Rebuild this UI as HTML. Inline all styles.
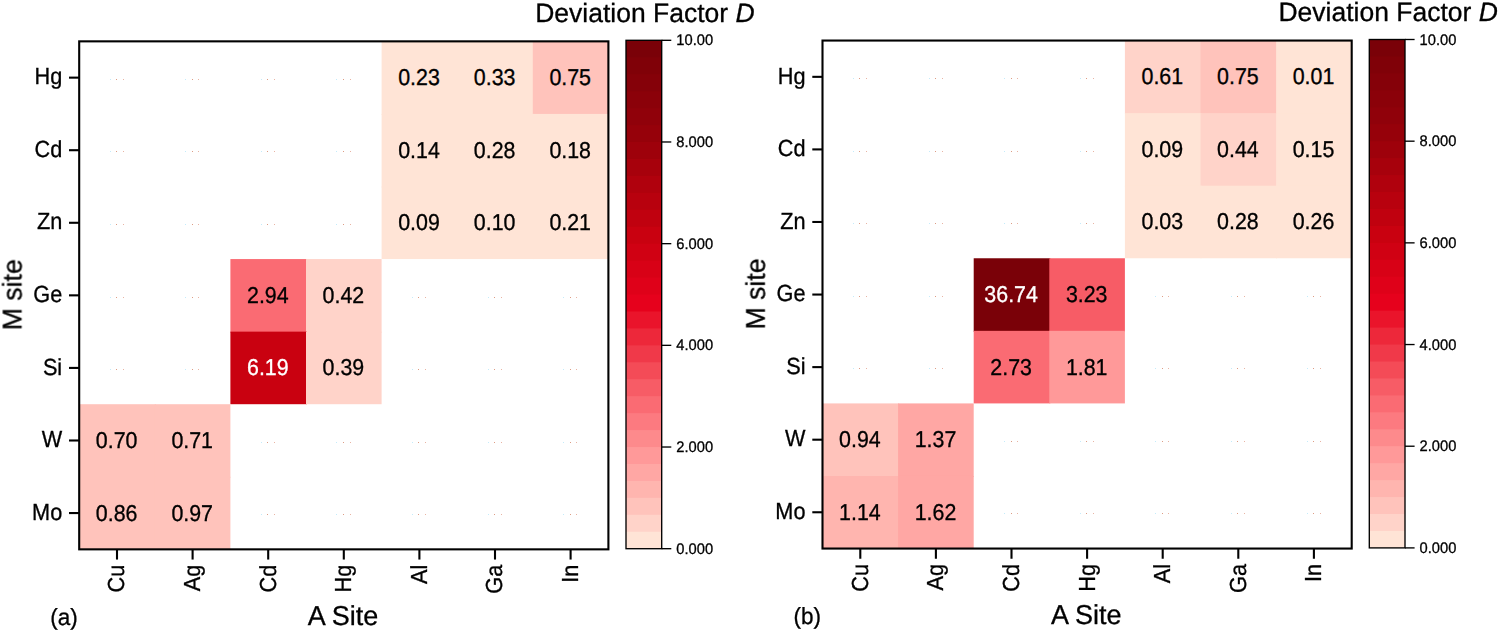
<!DOCTYPE html>
<html><head><meta charset="utf-8"><title>Deviation Factor heatmaps</title>
<style>
html,body{margin:0;padding:0;background:#fff;}
body{width:1500px;height:632px;overflow:hidden;}
svg{display:block;font-family:"Liberation Sans", sans-serif;}
svg text{font-family:"Liberation Sans", sans-serif;text-rendering:geometricPrecision;}
</style></head><body>
<svg width="1500" height="632" viewBox="0 0 1500 632">
<rect width="1500" height="632" fill="#fff"/>
<g transform="translate(0,0)" opacity="0.9999">
<rect x="381.60" y="41.35" width="76.60" height="73.57" fill="#ffe4d6"/>
<rect x="457.20" y="41.35" width="76.60" height="73.57" fill="#ffe4d6"/>
<rect x="532.80" y="41.35" width="75.60" height="73.57" fill="#ffc3bb"/>
<rect x="381.60" y="113.92" width="76.60" height="73.57" fill="#ffe4d6"/>
<rect x="457.20" y="113.92" width="76.60" height="73.57" fill="#ffe4d6"/>
<rect x="532.80" y="113.92" width="75.60" height="73.57" fill="#ffe4d6"/>
<rect x="381.60" y="186.49" width="76.60" height="72.57" fill="#ffe4d6"/>
<rect x="457.20" y="186.49" width="76.60" height="72.57" fill="#ffe4d6"/>
<rect x="532.80" y="186.49" width="75.60" height="72.57" fill="#ffe4d6"/>
<rect x="230.40" y="259.06" width="76.60" height="73.57" fill="#fa6b73"/>
<rect x="306.00" y="259.06" width="75.60" height="73.57" fill="#ffd3c9"/>
<rect x="230.40" y="331.64" width="76.60" height="72.57" fill="#c90010"/>
<rect x="306.00" y="331.64" width="75.60" height="72.57" fill="#ffd3c9"/>
<rect x="79.20" y="404.21" width="76.60" height="73.57" fill="#ffc3bb"/>
<rect x="154.80" y="404.21" width="75.60" height="73.57" fill="#ffc3bb"/>
<rect x="79.20" y="476.78" width="76.60" height="72.57" fill="#ffc3bb"/>
<rect x="154.80" y="476.78" width="75.60" height="72.57" fill="#ffc3bb"/>
<rect x="110.00" y="79.00" width="1" height="1" fill="#c4ebfa"/>
<rect x="116.00" y="79.00" width="1" height="1" fill="#dd9c84"/>
<rect x="123.00" y="79.00" width="1" height="1" fill="#e8b4a4"/>
<rect x="185.00" y="79.00" width="1" height="1" fill="#c4ebfa"/>
<rect x="192.00" y="79.00" width="1" height="1" fill="#dd9c84"/>
<rect x="198.00" y="79.00" width="1" height="1" fill="#e8b4a4"/>
<rect x="261.00" y="79.00" width="1" height="1" fill="#c4ebfa"/>
<rect x="267.00" y="79.00" width="1" height="1" fill="#dd9c84"/>
<rect x="274.00" y="79.00" width="1" height="1" fill="#e8b4a4"/>
<rect x="336.00" y="79.00" width="1" height="1" fill="#c4ebfa"/>
<rect x="343.00" y="79.00" width="1" height="1" fill="#dd9c84"/>
<rect x="350.00" y="79.00" width="1" height="1" fill="#e8b4a4"/>
<rect x="110.00" y="151.00" width="1" height="1" fill="#c4ebfa"/>
<rect x="116.00" y="151.00" width="1" height="1" fill="#dd9c84"/>
<rect x="123.00" y="151.00" width="1" height="1" fill="#e8b4a4"/>
<rect x="185.00" y="151.00" width="1" height="1" fill="#c4ebfa"/>
<rect x="192.00" y="151.00" width="1" height="1" fill="#dd9c84"/>
<rect x="198.00" y="151.00" width="1" height="1" fill="#e8b4a4"/>
<rect x="261.00" y="151.00" width="1" height="1" fill="#c4ebfa"/>
<rect x="267.00" y="151.00" width="1" height="1" fill="#dd9c84"/>
<rect x="274.00" y="151.00" width="1" height="1" fill="#e8b4a4"/>
<rect x="336.00" y="151.00" width="1" height="1" fill="#c4ebfa"/>
<rect x="343.00" y="151.00" width="1" height="1" fill="#dd9c84"/>
<rect x="350.00" y="151.00" width="1" height="1" fill="#e8b4a4"/>
<rect x="110.00" y="224.00" width="1" height="1" fill="#c4ebfa"/>
<rect x="116.00" y="224.00" width="1" height="1" fill="#dd9c84"/>
<rect x="123.00" y="224.00" width="1" height="1" fill="#e8b4a4"/>
<rect x="185.00" y="224.00" width="1" height="1" fill="#c4ebfa"/>
<rect x="192.00" y="224.00" width="1" height="1" fill="#dd9c84"/>
<rect x="198.00" y="224.00" width="1" height="1" fill="#e8b4a4"/>
<rect x="261.00" y="224.00" width="1" height="1" fill="#c4ebfa"/>
<rect x="267.00" y="224.00" width="1" height="1" fill="#dd9c84"/>
<rect x="274.00" y="224.00" width="1" height="1" fill="#e8b4a4"/>
<rect x="336.00" y="224.00" width="1" height="1" fill="#c4ebfa"/>
<rect x="343.00" y="224.00" width="1" height="1" fill="#dd9c84"/>
<rect x="350.00" y="224.00" width="1" height="1" fill="#e8b4a4"/>
<rect x="110.00" y="297.00" width="1" height="1" fill="#c4ebfa"/>
<rect x="116.00" y="297.00" width="1" height="1" fill="#dd9c84"/>
<rect x="123.00" y="297.00" width="1" height="1" fill="#e8b4a4"/>
<rect x="185.00" y="297.00" width="1" height="1" fill="#c4ebfa"/>
<rect x="192.00" y="297.00" width="1" height="1" fill="#dd9c84"/>
<rect x="198.00" y="297.00" width="1" height="1" fill="#e8b4a4"/>
<rect x="412.00" y="297.00" width="1" height="1" fill="#c4ebfa"/>
<rect x="418.00" y="297.00" width="1" height="1" fill="#dd9c84"/>
<rect x="425.00" y="297.00" width="1" height="1" fill="#e8b4a4"/>
<rect x="488.00" y="297.00" width="1" height="1" fill="#c4ebfa"/>
<rect x="494.00" y="297.00" width="1" height="1" fill="#dd9c84"/>
<rect x="501.00" y="297.00" width="1" height="1" fill="#e8b4a4"/>
<rect x="563.00" y="297.00" width="1" height="1" fill="#c4ebfa"/>
<rect x="570.00" y="297.00" width="1" height="1" fill="#dd9c84"/>
<rect x="576.00" y="297.00" width="1" height="1" fill="#e8b4a4"/>
<rect x="110.00" y="369.00" width="1" height="1" fill="#c4ebfa"/>
<rect x="116.00" y="369.00" width="1" height="1" fill="#dd9c84"/>
<rect x="123.00" y="369.00" width="1" height="1" fill="#e8b4a4"/>
<rect x="185.00" y="369.00" width="1" height="1" fill="#c4ebfa"/>
<rect x="192.00" y="369.00" width="1" height="1" fill="#dd9c84"/>
<rect x="198.00" y="369.00" width="1" height="1" fill="#e8b4a4"/>
<rect x="412.00" y="369.00" width="1" height="1" fill="#c4ebfa"/>
<rect x="418.00" y="369.00" width="1" height="1" fill="#dd9c84"/>
<rect x="425.00" y="369.00" width="1" height="1" fill="#e8b4a4"/>
<rect x="488.00" y="369.00" width="1" height="1" fill="#c4ebfa"/>
<rect x="494.00" y="369.00" width="1" height="1" fill="#dd9c84"/>
<rect x="501.00" y="369.00" width="1" height="1" fill="#e8b4a4"/>
<rect x="563.00" y="369.00" width="1" height="1" fill="#c4ebfa"/>
<rect x="570.00" y="369.00" width="1" height="1" fill="#dd9c84"/>
<rect x="576.00" y="369.00" width="1" height="1" fill="#e8b4a4"/>
<rect x="261.00" y="442.00" width="1" height="1" fill="#c4ebfa"/>
<rect x="267.00" y="442.00" width="1" height="1" fill="#dd9c84"/>
<rect x="274.00" y="442.00" width="1" height="1" fill="#e8b4a4"/>
<rect x="336.00" y="442.00" width="1" height="1" fill="#c4ebfa"/>
<rect x="343.00" y="442.00" width="1" height="1" fill="#dd9c84"/>
<rect x="350.00" y="442.00" width="1" height="1" fill="#e8b4a4"/>
<rect x="412.00" y="442.00" width="1" height="1" fill="#c4ebfa"/>
<rect x="418.00" y="442.00" width="1" height="1" fill="#dd9c84"/>
<rect x="425.00" y="442.00" width="1" height="1" fill="#e8b4a4"/>
<rect x="488.00" y="442.00" width="1" height="1" fill="#c4ebfa"/>
<rect x="494.00" y="442.00" width="1" height="1" fill="#dd9c84"/>
<rect x="501.00" y="442.00" width="1" height="1" fill="#e8b4a4"/>
<rect x="563.00" y="442.00" width="1" height="1" fill="#c4ebfa"/>
<rect x="570.00" y="442.00" width="1" height="1" fill="#dd9c84"/>
<rect x="576.00" y="442.00" width="1" height="1" fill="#e8b4a4"/>
<rect x="261.00" y="514.00" width="1" height="1" fill="#c4ebfa"/>
<rect x="267.00" y="514.00" width="1" height="1" fill="#dd9c84"/>
<rect x="274.00" y="514.00" width="1" height="1" fill="#e8b4a4"/>
<rect x="336.00" y="514.00" width="1" height="1" fill="#c4ebfa"/>
<rect x="343.00" y="514.00" width="1" height="1" fill="#dd9c84"/>
<rect x="350.00" y="514.00" width="1" height="1" fill="#e8b4a4"/>
<rect x="412.00" y="514.00" width="1" height="1" fill="#c4ebfa"/>
<rect x="418.00" y="514.00" width="1" height="1" fill="#dd9c84"/>
<rect x="425.00" y="514.00" width="1" height="1" fill="#e8b4a4"/>
<rect x="488.00" y="514.00" width="1" height="1" fill="#c4ebfa"/>
<rect x="494.00" y="514.00" width="1" height="1" fill="#dd9c84"/>
<rect x="501.00" y="514.00" width="1" height="1" fill="#e8b4a4"/>
<rect x="563.00" y="514.00" width="1" height="1" fill="#c4ebfa"/>
<rect x="570.00" y="514.00" width="1" height="1" fill="#dd9c84"/>
<rect x="576.00" y="514.00" width="1" height="1" fill="#e8b4a4"/>
<rect x="79.2" y="41.35" width="529.20" height="508.00" fill="none" stroke="#000" stroke-width="2.1"/>
<line x1="69.0" y1="77.64" x2="79.2" y2="77.64" stroke="#000" stroke-width="2.1"/>
<text transform="translate(62.20,84.34) scale(1,1.07)" font-size="21.7" text-anchor="end" fill="#000" stroke="#000" stroke-width="0.3">Hg</text>
<line x1="69.0" y1="150.21" x2="79.2" y2="150.21" stroke="#000" stroke-width="2.1"/>
<text transform="translate(62.20,156.91) scale(1,1.07)" font-size="21.7" text-anchor="end" fill="#000" stroke="#000" stroke-width="0.3">Cd</text>
<line x1="69.0" y1="222.78" x2="79.2" y2="222.78" stroke="#000" stroke-width="2.1"/>
<text transform="translate(62.20,229.48) scale(1,1.07)" font-size="21.7" text-anchor="end" fill="#000" stroke="#000" stroke-width="0.3">Zn</text>
<line x1="69.0" y1="295.35" x2="79.2" y2="295.35" stroke="#000" stroke-width="2.1"/>
<text transform="translate(62.20,302.05) scale(1,1.07)" font-size="21.7" text-anchor="end" fill="#000" stroke="#000" stroke-width="0.3">Ge</text>
<line x1="69.0" y1="367.92" x2="79.2" y2="367.92" stroke="#000" stroke-width="2.1"/>
<text transform="translate(62.20,374.62) scale(1,1.07)" font-size="21.7" text-anchor="end" fill="#000" stroke="#000" stroke-width="0.3">Si</text>
<line x1="69.0" y1="440.49" x2="79.2" y2="440.49" stroke="#000" stroke-width="2.1"/>
<text transform="translate(62.20,447.19) scale(1,1.07)" font-size="21.7" text-anchor="end" fill="#000" stroke="#000" stroke-width="0.3">W</text>
<line x1="69.0" y1="513.06" x2="79.2" y2="513.06" stroke="#000" stroke-width="2.1"/>
<text transform="translate(62.20,519.76) scale(1,1.07)" font-size="21.7" text-anchor="end" fill="#000" stroke="#000" stroke-width="0.3">Mo</text>
<line x1="117.00" y1="549.35" x2="117.00" y2="559.5500000000001" stroke="#000" stroke-width="2.1"/>
<text transform="translate(124.40,564.75) rotate(-90) scale(1,1.07)" font-size="21.7" text-anchor="end" fill="#000" stroke="#000" stroke-width="0.3">Cu</text>
<line x1="192.60" y1="549.35" x2="192.60" y2="559.5500000000001" stroke="#000" stroke-width="2.1"/>
<text transform="translate(200.00,564.75) rotate(-90) scale(1,1.07)" font-size="21.7" text-anchor="end" fill="#000" stroke="#000" stroke-width="0.3">Ag</text>
<line x1="268.20" y1="549.35" x2="268.20" y2="559.5500000000001" stroke="#000" stroke-width="2.1"/>
<text transform="translate(275.60,564.75) rotate(-90) scale(1,1.07)" font-size="21.7" text-anchor="end" fill="#000" stroke="#000" stroke-width="0.3">Cd</text>
<line x1="343.80" y1="549.35" x2="343.80" y2="559.5500000000001" stroke="#000" stroke-width="2.1"/>
<text transform="translate(351.20,564.75) rotate(-90) scale(1,1.07)" font-size="21.7" text-anchor="end" fill="#000" stroke="#000" stroke-width="0.3">Hg</text>
<line x1="419.40" y1="549.35" x2="419.40" y2="559.5500000000001" stroke="#000" stroke-width="2.1"/>
<text transform="translate(426.80,564.75) rotate(-90) scale(1,1.07)" font-size="21.7" text-anchor="end" fill="#000" stroke="#000" stroke-width="0.3">Al</text>
<line x1="495.00" y1="549.35" x2="495.00" y2="559.5500000000001" stroke="#000" stroke-width="2.1"/>
<text transform="translate(502.40,564.75) rotate(-90) scale(1,1.07)" font-size="21.7" text-anchor="end" fill="#000" stroke="#000" stroke-width="0.3">Ga</text>
<line x1="570.60" y1="549.35" x2="570.60" y2="559.5500000000001" stroke="#000" stroke-width="2.1"/>
<text transform="translate(578.00,564.75) rotate(-90) scale(1,1.07)" font-size="21.7" text-anchor="end" fill="#000" stroke="#000" stroke-width="0.3">In</text>
<text transform="translate(419.00,85.14) scale(1,1.07)" font-size="21.4" text-anchor="middle" fill="#000" stroke="#000" stroke-width="0.3">0.23</text>
<text transform="translate(494.60,85.14) scale(1,1.07)" font-size="21.4" text-anchor="middle" fill="#000" stroke="#000" stroke-width="0.3">0.33</text>
<text transform="translate(570.20,85.14) scale(1,1.07)" font-size="21.4" text-anchor="middle" fill="#000" stroke="#000" stroke-width="0.3">0.75</text>
<text transform="translate(419.00,157.71) scale(1,1.07)" font-size="21.4" text-anchor="middle" fill="#000" stroke="#000" stroke-width="0.3">0.14</text>
<text transform="translate(494.60,157.71) scale(1,1.07)" font-size="21.4" text-anchor="middle" fill="#000" stroke="#000" stroke-width="0.3">0.28</text>
<text transform="translate(570.20,157.71) scale(1,1.07)" font-size="21.4" text-anchor="middle" fill="#000" stroke="#000" stroke-width="0.3">0.18</text>
<text transform="translate(419.00,230.28) scale(1,1.07)" font-size="21.4" text-anchor="middle" fill="#000" stroke="#000" stroke-width="0.3">0.09</text>
<text transform="translate(494.60,230.28) scale(1,1.07)" font-size="21.4" text-anchor="middle" fill="#000" stroke="#000" stroke-width="0.3">0.10</text>
<text transform="translate(570.20,230.28) scale(1,1.07)" font-size="21.4" text-anchor="middle" fill="#000" stroke="#000" stroke-width="0.3">0.21</text>
<text transform="translate(267.80,302.85) scale(1,1.07)" font-size="21.4" text-anchor="middle" fill="#000" stroke="#000" stroke-width="0.3">2.94</text>
<text transform="translate(343.40,302.85) scale(1,1.07)" font-size="21.4" text-anchor="middle" fill="#000" stroke="#000" stroke-width="0.3">0.42</text>
<text transform="translate(267.80,375.42) scale(1,1.07)" font-size="21.4" text-anchor="middle" fill="#fff" stroke="#fff" stroke-width="0.3">6.19</text>
<text transform="translate(343.40,375.42) scale(1,1.07)" font-size="21.4" text-anchor="middle" fill="#000" stroke="#000" stroke-width="0.3">0.39</text>
<text transform="translate(116.60,447.99) scale(1,1.07)" font-size="21.4" text-anchor="middle" fill="#000" stroke="#000" stroke-width="0.3">0.70</text>
<text transform="translate(192.20,447.99) scale(1,1.07)" font-size="21.4" text-anchor="middle" fill="#000" stroke="#000" stroke-width="0.3">0.71</text>
<text transform="translate(116.60,520.56) scale(1,1.07)" font-size="21.4" text-anchor="middle" fill="#000" stroke="#000" stroke-width="0.3">0.86</text>
<text transform="translate(192.20,520.56) scale(1,1.07)" font-size="21.4" text-anchor="middle" fill="#000" stroke="#000" stroke-width="0.3">0.97</text>
<rect x="626.0" y="40.30" width="35.70" height="508.40" fill="#7a0008"/>
<rect x="626.0" y="57.25" width="35.70" height="491.45" fill="#800008"/>
<rect x="626.0" y="74.19" width="35.70" height="474.51" fill="#850009"/>
<rect x="626.0" y="91.14" width="35.70" height="457.56" fill="#8b0009"/>
<rect x="626.0" y="108.09" width="35.70" height="440.61" fill="#90000a"/>
<rect x="626.0" y="125.03" width="35.70" height="423.67" fill="#96000a"/>
<rect x="626.0" y="141.98" width="35.70" height="406.72" fill="#9e000b"/>
<rect x="626.0" y="158.93" width="35.70" height="389.77" fill="#a7000c"/>
<rect x="626.0" y="175.87" width="35.70" height="372.83" fill="#b0000d"/>
<rect x="626.0" y="192.82" width="35.70" height="355.88" fill="#b8000e"/>
<rect x="626.0" y="209.77" width="35.70" height="338.93" fill="#c0000f"/>
<rect x="626.0" y="226.71" width="35.70" height="321.99" fill="#c90010"/>
<rect x="626.0" y="243.66" width="35.70" height="305.04" fill="#d00013"/>
<rect x="626.0" y="260.61" width="35.70" height="288.09" fill="#d80016"/>
<rect x="626.0" y="277.55" width="35.70" height="271.15" fill="#df0019"/>
<rect x="626.0" y="294.50" width="35.70" height="254.20" fill="#e6001c"/>
<rect x="626.0" y="311.45" width="35.70" height="237.25" fill="#ea142b"/>
<rect x="626.0" y="328.39" width="35.70" height="220.31" fill="#ed283a"/>
<rect x="626.0" y="345.34" width="35.70" height="203.36" fill="#f03949"/>
<rect x="626.0" y="362.29" width="35.70" height="186.41" fill="#f44b57"/>
<rect x="626.0" y="379.23" width="35.70" height="169.47" fill="#f75c66"/>
<rect x="626.0" y="396.18" width="35.70" height="152.52" fill="#fa6b73"/>
<rect x="626.0" y="413.13" width="35.70" height="135.57" fill="#fc7a80"/>
<rect x="626.0" y="430.07" width="35.70" height="118.63" fill="#fd8a8c"/>
<rect x="626.0" y="447.02" width="35.70" height="101.68" fill="#ff9999"/>
<rect x="626.0" y="463.97" width="35.70" height="84.73" fill="#ffa7a4"/>
<rect x="626.0" y="480.91" width="35.70" height="67.79" fill="#ffb5af"/>
<rect x="626.0" y="497.86" width="35.70" height="50.84" fill="#ffc3bb"/>
<rect x="626.0" y="514.81" width="35.70" height="33.89" fill="#ffd3c9"/>
<rect x="626.0" y="531.75" width="35.70" height="16.95" fill="#ffe4d6"/>
<rect x="626.0" y="40.3" width="35.70" height="508.40" fill="none" stroke="#000" stroke-width="1.35"/>
<line x1="661.7" y1="548.70" x2="671.3000000000001" y2="548.70" stroke="#000" stroke-width="1.35"/>
<text transform="translate(676.30,553.80) scale(1,1.04)" font-size="14.7" text-anchor="start" fill="#000" stroke="#000" stroke-width="0.3">0.000</text>
<line x1="661.7" y1="447.02" x2="671.3000000000001" y2="447.02" stroke="#000" stroke-width="1.35"/>
<text transform="translate(676.30,452.12) scale(1,1.04)" font-size="14.7" text-anchor="start" fill="#000" stroke="#000" stroke-width="0.3">2.000</text>
<line x1="661.7" y1="345.34" x2="671.3000000000001" y2="345.34" stroke="#000" stroke-width="1.35"/>
<text transform="translate(676.30,350.44) scale(1,1.04)" font-size="14.7" text-anchor="start" fill="#000" stroke="#000" stroke-width="0.3">4.000</text>
<line x1="661.7" y1="243.66" x2="671.3000000000001" y2="243.66" stroke="#000" stroke-width="1.35"/>
<text transform="translate(676.30,248.76) scale(1,1.04)" font-size="14.7" text-anchor="start" fill="#000" stroke="#000" stroke-width="0.3">6.000</text>
<line x1="661.7" y1="141.98" x2="671.3000000000001" y2="141.98" stroke="#000" stroke-width="1.35"/>
<text transform="translate(676.30,147.08) scale(1,1.04)" font-size="14.7" text-anchor="start" fill="#000" stroke="#000" stroke-width="0.3">8.000</text>
<line x1="661.7" y1="40.30" x2="671.3000000000001" y2="40.30" stroke="#000" stroke-width="1.35"/>
<text transform="translate(676.30,45.40) scale(1,1.04)" font-size="14.7" text-anchor="start" fill="#000" stroke="#000" stroke-width="0.3">10.00</text>
<text transform="translate(343.00,625.00) scale(1,1.01)" font-size="27.0" text-anchor="middle" fill="#000" stroke="#000" stroke-width="0.3">A Site</text>
<text transform="translate(21.70,294.70) rotate(-90) scale(1,1.01)" font-size="26.6" text-anchor="middle" fill="#000" stroke="#000" stroke-width="0.3">M site</text>
<text transform="translate(754.60,21.50) scale(1,1.0)" font-size="26.5" text-anchor="end" fill="#000" stroke="#000" stroke-width="0.3">Deviation Factor <tspan font-style="italic">D</tspan></text>
<text transform="translate(50.30,624.90) scale(1,1.04)" font-size="22.5" text-anchor="start" fill="#000" stroke="#000" stroke-width="0.3">(a)</text>
</g>
<g transform="translate(743.3,-0.8)" opacity="0.9999">
<rect x="381.60" y="41.35" width="76.60" height="73.57" fill="#ffd3c9"/>
<rect x="457.20" y="41.35" width="76.60" height="73.57" fill="#ffc3bb"/>
<rect x="532.80" y="41.35" width="75.60" height="73.57" fill="#ffe4d6"/>
<rect x="381.60" y="113.92" width="76.60" height="73.57" fill="#ffe4d6"/>
<rect x="457.20" y="113.92" width="76.60" height="73.57" fill="#ffd3c9"/>
<rect x="532.80" y="113.92" width="75.60" height="73.57" fill="#ffe4d6"/>
<rect x="381.60" y="186.49" width="76.60" height="72.57" fill="#ffe4d6"/>
<rect x="457.20" y="186.49" width="76.60" height="72.57" fill="#ffe4d6"/>
<rect x="532.80" y="186.49" width="75.60" height="72.57" fill="#ffe4d6"/>
<rect x="230.40" y="259.06" width="76.60" height="73.57" fill="#7a0008"/>
<rect x="306.00" y="259.06" width="75.60" height="73.57" fill="#f75c66"/>
<rect x="230.40" y="331.64" width="76.60" height="72.57" fill="#fa6b73"/>
<rect x="306.00" y="331.64" width="75.60" height="72.57" fill="#ff9999"/>
<rect x="79.20" y="404.21" width="76.60" height="73.57" fill="#ffc3bb"/>
<rect x="154.80" y="404.21" width="75.60" height="73.57" fill="#ffa7a4"/>
<rect x="79.20" y="476.78" width="76.60" height="72.57" fill="#ffb5af"/>
<rect x="154.80" y="476.78" width="75.60" height="72.57" fill="#ffa7a4"/>
<rect x="109.70" y="78.80" width="1" height="1" fill="#c4ebfa"/>
<rect x="115.70" y="78.80" width="1" height="1" fill="#dd9c84"/>
<rect x="122.70" y="78.80" width="1" height="1" fill="#e8b4a4"/>
<rect x="185.70" y="78.80" width="1" height="1" fill="#c4ebfa"/>
<rect x="191.70" y="78.80" width="1" height="1" fill="#dd9c84"/>
<rect x="198.70" y="78.80" width="1" height="1" fill="#e8b4a4"/>
<rect x="260.70" y="78.80" width="1" height="1" fill="#c4ebfa"/>
<rect x="267.70" y="78.80" width="1" height="1" fill="#dd9c84"/>
<rect x="273.70" y="78.80" width="1" height="1" fill="#e8b4a4"/>
<rect x="336.70" y="78.80" width="1" height="1" fill="#c4ebfa"/>
<rect x="342.70" y="78.80" width="1" height="1" fill="#dd9c84"/>
<rect x="349.70" y="78.80" width="1" height="1" fill="#e8b4a4"/>
<rect x="109.70" y="151.80" width="1" height="1" fill="#c4ebfa"/>
<rect x="115.70" y="151.80" width="1" height="1" fill="#dd9c84"/>
<rect x="122.70" y="151.80" width="1" height="1" fill="#e8b4a4"/>
<rect x="185.70" y="151.80" width="1" height="1" fill="#c4ebfa"/>
<rect x="191.70" y="151.80" width="1" height="1" fill="#dd9c84"/>
<rect x="198.70" y="151.80" width="1" height="1" fill="#e8b4a4"/>
<rect x="260.70" y="151.80" width="1" height="1" fill="#c4ebfa"/>
<rect x="267.70" y="151.80" width="1" height="1" fill="#dd9c84"/>
<rect x="273.70" y="151.80" width="1" height="1" fill="#e8b4a4"/>
<rect x="336.70" y="151.80" width="1" height="1" fill="#c4ebfa"/>
<rect x="342.70" y="151.80" width="1" height="1" fill="#dd9c84"/>
<rect x="349.70" y="151.80" width="1" height="1" fill="#e8b4a4"/>
<rect x="109.70" y="223.80" width="1" height="1" fill="#c4ebfa"/>
<rect x="115.70" y="223.80" width="1" height="1" fill="#dd9c84"/>
<rect x="122.70" y="223.80" width="1" height="1" fill="#e8b4a4"/>
<rect x="185.70" y="223.80" width="1" height="1" fill="#c4ebfa"/>
<rect x="191.70" y="223.80" width="1" height="1" fill="#dd9c84"/>
<rect x="198.70" y="223.80" width="1" height="1" fill="#e8b4a4"/>
<rect x="260.70" y="223.80" width="1" height="1" fill="#c4ebfa"/>
<rect x="267.70" y="223.80" width="1" height="1" fill="#dd9c84"/>
<rect x="273.70" y="223.80" width="1" height="1" fill="#e8b4a4"/>
<rect x="336.70" y="223.80" width="1" height="1" fill="#c4ebfa"/>
<rect x="342.70" y="223.80" width="1" height="1" fill="#dd9c84"/>
<rect x="349.70" y="223.80" width="1" height="1" fill="#e8b4a4"/>
<rect x="109.70" y="296.80" width="1" height="1" fill="#c4ebfa"/>
<rect x="115.70" y="296.80" width="1" height="1" fill="#dd9c84"/>
<rect x="122.70" y="296.80" width="1" height="1" fill="#e8b4a4"/>
<rect x="185.70" y="296.80" width="1" height="1" fill="#c4ebfa"/>
<rect x="191.70" y="296.80" width="1" height="1" fill="#dd9c84"/>
<rect x="198.70" y="296.80" width="1" height="1" fill="#e8b4a4"/>
<rect x="411.70" y="296.80" width="1" height="1" fill="#c4ebfa"/>
<rect x="418.70" y="296.80" width="1" height="1" fill="#dd9c84"/>
<rect x="424.70" y="296.80" width="1" height="1" fill="#e8b4a4"/>
<rect x="487.70" y="296.80" width="1" height="1" fill="#c4ebfa"/>
<rect x="493.70" y="296.80" width="1" height="1" fill="#dd9c84"/>
<rect x="500.70" y="296.80" width="1" height="1" fill="#e8b4a4"/>
<rect x="563.70" y="296.80" width="1" height="1" fill="#c4ebfa"/>
<rect x="569.70" y="296.80" width="1" height="1" fill="#dd9c84"/>
<rect x="576.70" y="296.80" width="1" height="1" fill="#e8b4a4"/>
<rect x="109.70" y="368.80" width="1" height="1" fill="#c4ebfa"/>
<rect x="115.70" y="368.80" width="1" height="1" fill="#dd9c84"/>
<rect x="122.70" y="368.80" width="1" height="1" fill="#e8b4a4"/>
<rect x="185.70" y="368.80" width="1" height="1" fill="#c4ebfa"/>
<rect x="191.70" y="368.80" width="1" height="1" fill="#dd9c84"/>
<rect x="198.70" y="368.80" width="1" height="1" fill="#e8b4a4"/>
<rect x="411.70" y="368.80" width="1" height="1" fill="#c4ebfa"/>
<rect x="418.70" y="368.80" width="1" height="1" fill="#dd9c84"/>
<rect x="424.70" y="368.80" width="1" height="1" fill="#e8b4a4"/>
<rect x="487.70" y="368.80" width="1" height="1" fill="#c4ebfa"/>
<rect x="493.70" y="368.80" width="1" height="1" fill="#dd9c84"/>
<rect x="500.70" y="368.80" width="1" height="1" fill="#e8b4a4"/>
<rect x="563.70" y="368.80" width="1" height="1" fill="#c4ebfa"/>
<rect x="569.70" y="368.80" width="1" height="1" fill="#dd9c84"/>
<rect x="576.70" y="368.80" width="1" height="1" fill="#e8b4a4"/>
<rect x="260.70" y="441.80" width="1" height="1" fill="#c4ebfa"/>
<rect x="267.70" y="441.80" width="1" height="1" fill="#dd9c84"/>
<rect x="273.70" y="441.80" width="1" height="1" fill="#e8b4a4"/>
<rect x="336.70" y="441.80" width="1" height="1" fill="#c4ebfa"/>
<rect x="342.70" y="441.80" width="1" height="1" fill="#dd9c84"/>
<rect x="349.70" y="441.80" width="1" height="1" fill="#e8b4a4"/>
<rect x="411.70" y="441.80" width="1" height="1" fill="#c4ebfa"/>
<rect x="418.70" y="441.80" width="1" height="1" fill="#dd9c84"/>
<rect x="424.70" y="441.80" width="1" height="1" fill="#e8b4a4"/>
<rect x="487.70" y="441.80" width="1" height="1" fill="#c4ebfa"/>
<rect x="493.70" y="441.80" width="1" height="1" fill="#dd9c84"/>
<rect x="500.70" y="441.80" width="1" height="1" fill="#e8b4a4"/>
<rect x="563.70" y="441.80" width="1" height="1" fill="#c4ebfa"/>
<rect x="569.70" y="441.80" width="1" height="1" fill="#dd9c84"/>
<rect x="576.70" y="441.80" width="1" height="1" fill="#e8b4a4"/>
<rect x="260.70" y="513.80" width="1" height="1" fill="#c4ebfa"/>
<rect x="267.70" y="513.80" width="1" height="1" fill="#dd9c84"/>
<rect x="273.70" y="513.80" width="1" height="1" fill="#e8b4a4"/>
<rect x="336.70" y="513.80" width="1" height="1" fill="#c4ebfa"/>
<rect x="342.70" y="513.80" width="1" height="1" fill="#dd9c84"/>
<rect x="349.70" y="513.80" width="1" height="1" fill="#e8b4a4"/>
<rect x="411.70" y="513.80" width="1" height="1" fill="#c4ebfa"/>
<rect x="418.70" y="513.80" width="1" height="1" fill="#dd9c84"/>
<rect x="424.70" y="513.80" width="1" height="1" fill="#e8b4a4"/>
<rect x="487.70" y="513.80" width="1" height="1" fill="#c4ebfa"/>
<rect x="493.70" y="513.80" width="1" height="1" fill="#dd9c84"/>
<rect x="500.70" y="513.80" width="1" height="1" fill="#e8b4a4"/>
<rect x="563.70" y="513.80" width="1" height="1" fill="#c4ebfa"/>
<rect x="569.70" y="513.80" width="1" height="1" fill="#dd9c84"/>
<rect x="576.70" y="513.80" width="1" height="1" fill="#e8b4a4"/>
<rect x="79.2" y="41.35" width="529.20" height="508.00" fill="none" stroke="#000" stroke-width="2.1"/>
<line x1="69.0" y1="77.64" x2="79.2" y2="77.64" stroke="#000" stroke-width="2.1"/>
<text transform="translate(62.20,84.34) scale(1,1.07)" font-size="21.7" text-anchor="end" fill="#000" stroke="#000" stroke-width="0.3">Hg</text>
<line x1="69.0" y1="150.21" x2="79.2" y2="150.21" stroke="#000" stroke-width="2.1"/>
<text transform="translate(62.20,156.91) scale(1,1.07)" font-size="21.7" text-anchor="end" fill="#000" stroke="#000" stroke-width="0.3">Cd</text>
<line x1="69.0" y1="222.78" x2="79.2" y2="222.78" stroke="#000" stroke-width="2.1"/>
<text transform="translate(62.20,229.48) scale(1,1.07)" font-size="21.7" text-anchor="end" fill="#000" stroke="#000" stroke-width="0.3">Zn</text>
<line x1="69.0" y1="295.35" x2="79.2" y2="295.35" stroke="#000" stroke-width="2.1"/>
<text transform="translate(62.20,302.05) scale(1,1.07)" font-size="21.7" text-anchor="end" fill="#000" stroke="#000" stroke-width="0.3">Ge</text>
<line x1="69.0" y1="367.92" x2="79.2" y2="367.92" stroke="#000" stroke-width="2.1"/>
<text transform="translate(62.20,374.62) scale(1,1.07)" font-size="21.7" text-anchor="end" fill="#000" stroke="#000" stroke-width="0.3">Si</text>
<line x1="69.0" y1="440.49" x2="79.2" y2="440.49" stroke="#000" stroke-width="2.1"/>
<text transform="translate(62.20,447.19) scale(1,1.07)" font-size="21.7" text-anchor="end" fill="#000" stroke="#000" stroke-width="0.3">W</text>
<line x1="69.0" y1="513.06" x2="79.2" y2="513.06" stroke="#000" stroke-width="2.1"/>
<text transform="translate(62.20,519.76) scale(1,1.07)" font-size="21.7" text-anchor="end" fill="#000" stroke="#000" stroke-width="0.3">Mo</text>
<line x1="117.00" y1="549.35" x2="117.00" y2="559.5500000000001" stroke="#000" stroke-width="2.1"/>
<text transform="translate(124.40,564.75) rotate(-90) scale(1,1.07)" font-size="21.7" text-anchor="end" fill="#000" stroke="#000" stroke-width="0.3">Cu</text>
<line x1="192.60" y1="549.35" x2="192.60" y2="559.5500000000001" stroke="#000" stroke-width="2.1"/>
<text transform="translate(200.00,564.75) rotate(-90) scale(1,1.07)" font-size="21.7" text-anchor="end" fill="#000" stroke="#000" stroke-width="0.3">Ag</text>
<line x1="268.20" y1="549.35" x2="268.20" y2="559.5500000000001" stroke="#000" stroke-width="2.1"/>
<text transform="translate(275.60,564.75) rotate(-90) scale(1,1.07)" font-size="21.7" text-anchor="end" fill="#000" stroke="#000" stroke-width="0.3">Cd</text>
<line x1="343.80" y1="549.35" x2="343.80" y2="559.5500000000001" stroke="#000" stroke-width="2.1"/>
<text transform="translate(351.20,564.75) rotate(-90) scale(1,1.07)" font-size="21.7" text-anchor="end" fill="#000" stroke="#000" stroke-width="0.3">Hg</text>
<line x1="419.40" y1="549.35" x2="419.40" y2="559.5500000000001" stroke="#000" stroke-width="2.1"/>
<text transform="translate(426.80,564.75) rotate(-90) scale(1,1.07)" font-size="21.7" text-anchor="end" fill="#000" stroke="#000" stroke-width="0.3">Al</text>
<line x1="495.00" y1="549.35" x2="495.00" y2="559.5500000000001" stroke="#000" stroke-width="2.1"/>
<text transform="translate(502.40,564.75) rotate(-90) scale(1,1.07)" font-size="21.7" text-anchor="end" fill="#000" stroke="#000" stroke-width="0.3">Ga</text>
<line x1="570.60" y1="549.35" x2="570.60" y2="559.5500000000001" stroke="#000" stroke-width="2.1"/>
<text transform="translate(578.00,564.75) rotate(-90) scale(1,1.07)" font-size="21.7" text-anchor="end" fill="#000" stroke="#000" stroke-width="0.3">In</text>
<text transform="translate(419.00,85.14) scale(1,1.07)" font-size="21.4" text-anchor="middle" fill="#000" stroke="#000" stroke-width="0.3">0.61</text>
<text transform="translate(494.60,85.14) scale(1,1.07)" font-size="21.4" text-anchor="middle" fill="#000" stroke="#000" stroke-width="0.3">0.75</text>
<text transform="translate(570.20,85.14) scale(1,1.07)" font-size="21.4" text-anchor="middle" fill="#000" stroke="#000" stroke-width="0.3">0.01</text>
<text transform="translate(419.00,157.71) scale(1,1.07)" font-size="21.4" text-anchor="middle" fill="#000" stroke="#000" stroke-width="0.3">0.09</text>
<text transform="translate(494.60,157.71) scale(1,1.07)" font-size="21.4" text-anchor="middle" fill="#000" stroke="#000" stroke-width="0.3">0.44</text>
<text transform="translate(570.20,157.71) scale(1,1.07)" font-size="21.4" text-anchor="middle" fill="#000" stroke="#000" stroke-width="0.3">0.15</text>
<text transform="translate(419.00,230.28) scale(1,1.07)" font-size="21.4" text-anchor="middle" fill="#000" stroke="#000" stroke-width="0.3">0.03</text>
<text transform="translate(494.60,230.28) scale(1,1.07)" font-size="21.4" text-anchor="middle" fill="#000" stroke="#000" stroke-width="0.3">0.28</text>
<text transform="translate(570.20,230.28) scale(1,1.07)" font-size="21.4" text-anchor="middle" fill="#000" stroke="#000" stroke-width="0.3">0.26</text>
<text transform="translate(267.80,302.85) scale(1,1.07)" font-size="21.4" text-anchor="middle" fill="#fff" stroke="#fff" stroke-width="0.3">36.74</text>
<text transform="translate(343.40,302.85) scale(1,1.07)" font-size="21.4" text-anchor="middle" fill="#000" stroke="#000" stroke-width="0.3">3.23</text>
<text transform="translate(267.80,375.42) scale(1,1.07)" font-size="21.4" text-anchor="middle" fill="#000" stroke="#000" stroke-width="0.3">2.73</text>
<text transform="translate(343.40,375.42) scale(1,1.07)" font-size="21.4" text-anchor="middle" fill="#000" stroke="#000" stroke-width="0.3">1.81</text>
<text transform="translate(116.60,447.99) scale(1,1.07)" font-size="21.4" text-anchor="middle" fill="#000" stroke="#000" stroke-width="0.3">0.94</text>
<text transform="translate(192.20,447.99) scale(1,1.07)" font-size="21.4" text-anchor="middle" fill="#000" stroke="#000" stroke-width="0.3">1.37</text>
<text transform="translate(116.60,520.56) scale(1,1.07)" font-size="21.4" text-anchor="middle" fill="#000" stroke="#000" stroke-width="0.3">1.14</text>
<text transform="translate(192.20,520.56) scale(1,1.07)" font-size="21.4" text-anchor="middle" fill="#000" stroke="#000" stroke-width="0.3">1.62</text>
<rect x="626.0" y="40.30" width="35.70" height="508.40" fill="#7a0008"/>
<rect x="626.0" y="57.25" width="35.70" height="491.45" fill="#800008"/>
<rect x="626.0" y="74.19" width="35.70" height="474.51" fill="#850009"/>
<rect x="626.0" y="91.14" width="35.70" height="457.56" fill="#8b0009"/>
<rect x="626.0" y="108.09" width="35.70" height="440.61" fill="#90000a"/>
<rect x="626.0" y="125.03" width="35.70" height="423.67" fill="#96000a"/>
<rect x="626.0" y="141.98" width="35.70" height="406.72" fill="#9e000b"/>
<rect x="626.0" y="158.93" width="35.70" height="389.77" fill="#a7000c"/>
<rect x="626.0" y="175.87" width="35.70" height="372.83" fill="#b0000d"/>
<rect x="626.0" y="192.82" width="35.70" height="355.88" fill="#b8000e"/>
<rect x="626.0" y="209.77" width="35.70" height="338.93" fill="#c0000f"/>
<rect x="626.0" y="226.71" width="35.70" height="321.99" fill="#c90010"/>
<rect x="626.0" y="243.66" width="35.70" height="305.04" fill="#d00013"/>
<rect x="626.0" y="260.61" width="35.70" height="288.09" fill="#d80016"/>
<rect x="626.0" y="277.55" width="35.70" height="271.15" fill="#df0019"/>
<rect x="626.0" y="294.50" width="35.70" height="254.20" fill="#e6001c"/>
<rect x="626.0" y="311.45" width="35.70" height="237.25" fill="#ea142b"/>
<rect x="626.0" y="328.39" width="35.70" height="220.31" fill="#ed283a"/>
<rect x="626.0" y="345.34" width="35.70" height="203.36" fill="#f03949"/>
<rect x="626.0" y="362.29" width="35.70" height="186.41" fill="#f44b57"/>
<rect x="626.0" y="379.23" width="35.70" height="169.47" fill="#f75c66"/>
<rect x="626.0" y="396.18" width="35.70" height="152.52" fill="#fa6b73"/>
<rect x="626.0" y="413.13" width="35.70" height="135.57" fill="#fc7a80"/>
<rect x="626.0" y="430.07" width="35.70" height="118.63" fill="#fd8a8c"/>
<rect x="626.0" y="447.02" width="35.70" height="101.68" fill="#ff9999"/>
<rect x="626.0" y="463.97" width="35.70" height="84.73" fill="#ffa7a4"/>
<rect x="626.0" y="480.91" width="35.70" height="67.79" fill="#ffb5af"/>
<rect x="626.0" y="497.86" width="35.70" height="50.84" fill="#ffc3bb"/>
<rect x="626.0" y="514.81" width="35.70" height="33.89" fill="#ffd3c9"/>
<rect x="626.0" y="531.75" width="35.70" height="16.95" fill="#ffe4d6"/>
<rect x="626.0" y="40.3" width="35.70" height="508.40" fill="none" stroke="#000" stroke-width="1.35"/>
<line x1="661.7" y1="548.70" x2="671.3000000000001" y2="548.70" stroke="#000" stroke-width="1.35"/>
<text transform="translate(676.30,553.80) scale(1,1.04)" font-size="14.7" text-anchor="start" fill="#000" stroke="#000" stroke-width="0.3">0.000</text>
<line x1="661.7" y1="447.02" x2="671.3000000000001" y2="447.02" stroke="#000" stroke-width="1.35"/>
<text transform="translate(676.30,452.12) scale(1,1.04)" font-size="14.7" text-anchor="start" fill="#000" stroke="#000" stroke-width="0.3">2.000</text>
<line x1="661.7" y1="345.34" x2="671.3000000000001" y2="345.34" stroke="#000" stroke-width="1.35"/>
<text transform="translate(676.30,350.44) scale(1,1.04)" font-size="14.7" text-anchor="start" fill="#000" stroke="#000" stroke-width="0.3">4.000</text>
<line x1="661.7" y1="243.66" x2="671.3000000000001" y2="243.66" stroke="#000" stroke-width="1.35"/>
<text transform="translate(676.30,248.76) scale(1,1.04)" font-size="14.7" text-anchor="start" fill="#000" stroke="#000" stroke-width="0.3">6.000</text>
<line x1="661.7" y1="141.98" x2="671.3000000000001" y2="141.98" stroke="#000" stroke-width="1.35"/>
<text transform="translate(676.30,147.08) scale(1,1.04)" font-size="14.7" text-anchor="start" fill="#000" stroke="#000" stroke-width="0.3">8.000</text>
<line x1="661.7" y1="40.30" x2="671.3000000000001" y2="40.30" stroke="#000" stroke-width="1.35"/>
<text transform="translate(676.30,45.40) scale(1,1.04)" font-size="14.7" text-anchor="start" fill="#000" stroke="#000" stroke-width="0.3">10.00</text>
<text transform="translate(343.00,625.00) scale(1,1.01)" font-size="27.0" text-anchor="middle" fill="#000" stroke="#000" stroke-width="0.3">A Site</text>
<text transform="translate(21.70,294.70) rotate(-90) scale(1,1.01)" font-size="26.6" text-anchor="middle" fill="#000" stroke="#000" stroke-width="0.3">M site</text>
<text transform="translate(754.60,21.50) scale(1,1.0)" font-size="26.5" text-anchor="end" fill="#000" stroke="#000" stroke-width="0.3">Deviation Factor <tspan font-style="italic">D</tspan></text>
<text transform="translate(50.30,624.90) scale(1,1.04)" font-size="22.5" text-anchor="start" fill="#000" stroke="#000" stroke-width="0.3">(b)</text>
</g>
</svg>
</body></html>
